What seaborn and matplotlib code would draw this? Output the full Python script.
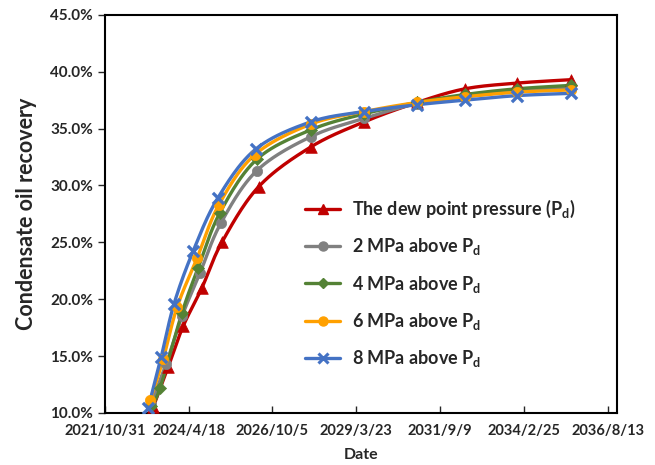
import numpy as np
import pandas as pd
import matplotlib
matplotlib.use('Agg')
import matplotlib.pyplot as plt
import matplotlib.dates as mdates
from matplotlib.lines import Line2D
import seaborn as sns

# dates (the last six are shared by all cases)
late_dates = ['2027/11/24', '2029/6/18', '2031/1/6', '2032/6/3', '2033/12/11', '2035/7/12']

dew_dates = ['2023/4/3', '2023/9/10', '2024/2/18', '2024/9/8', '2025/4/10', '2026/5/11'] + late_dates
dew_rec = [10.5, 14.0, 17.6, 21.0, 25.0, 29.9, 33.4, 35.6, 37.3, 38.5, 39.0, 39.3]

p2_dates = ['2023/3/13', '2023/8/20', '2024/2/7', '2024/8/18', '2025/3/31', '2026/4/20'] + late_dates
p2_rec = [10.8, 14.3, 18.5, 22.3, 26.7, 31.3, 34.3, 35.9, 37.2, 37.8, 38.3, 38.6]

p4_dates = ['2023/3/13', '2023/6/17', '2024/2/7', '2024/7/27', '2025/3/20', '2026/4/20'] + late_dates
p4_rec = [10.6, 12.2, 18.8, 22.7, 27.6, 32.3, 34.9, 36.3, 37.3, 38.0, 38.5, 38.8]

p6_dates = ['2023/3/2', '2023/7/19', '2023/12/16', '2024/7/17', '2025/3/9', '2026/3/29'] + late_dates
p6_rec = [11.1, 14.7, 19.3, 23.6, 28.3, 32.7, 35.4, 36.5, 37.3, 37.8, 38.2, 38.4]

p8_dates = ['2023/2/8', '2023/6/28', '2023/11/14', '2024/6/4', '2025/2/26', '2026/4/9'] + late_dates
p8_rec = [10.4, 14.9, 19.6, 24.2, 28.9, 33.2, 35.6, 36.5, 37.1, 37.5, 37.9, 38.1]

labels = ['The dew point pressure (P$\\mathregular{_d}$)',
          '2 MPa above P$\\mathregular{_d}$',
          '4 MPa above P$\\mathregular{_d}$',
          '6 MPa above P$\\mathregular{_d}$',
          '8 MPa above P$\\mathregular{_d}$']
colors = ['#C00000', '#808080', '#548235', '#FFA000', '#4472C4']
markers = ['^', 'o', 'D', 'o', 'x']
msizes = [70, 55, 38, 55, 65]

sns.set_style('white')
plt.rcParams['font.family'] = ['Lato', 'DejaVu Sans']
plt.rcParams['font.weight'] = 'bold'
plt.rcParams['mathtext.fontset'] = 'custom'
plt.rcParams['mathtext.rm'] = 'Lato:bold'


def smooth(x, y, n=25):
    # Catmull-Rom in roughly pixel-scaled space (like Excel smoothed lines)
    sx, sy = 512 / 5500.0, 398 / 35.0
    P = np.column_stack([x * sx, y * sy])
    P = np.vstack([P[0], P, P[-1]])
    t = np.linspace(0, 1, n)[:, None]
    segs = []
    for i in range(1, len(P) - 2):
        p0, p1, p2, p3 = P[i - 1], P[i], P[i + 1], P[i + 2]
        seg = 0.5 * (2 * p1 + (-p0 + p2) * t + (2 * p0 - 5 * p1 + 4 * p2 - p3) * t ** 2
                     + (-p0 + 3 * p1 - 3 * p2 + p3) * t ** 3)
        segs.append(seg if i == 1 else seg[1:])
    S = np.vstack(segs)
    return S[:, 0] / sx, S[:, 1] / sy


fig, ax = plt.subplots(figsize=(6.55, 4.65), dpi=100)
fig.subplots_adjust(left=0.160, right=0.942, top=0.968, bottom=0.112)

series = [(dew_dates, dew_rec), (p2_dates, p2_rec), (p4_dates, p4_rec),
          (p6_dates, p6_rec), (p8_dates, p8_rec)]

for (d, r), c, m, s in zip(series, colors, markers, msizes):
    x = mdates.date2num(pd.to_datetime(d, format='%Y/%m/%d'))
    y = np.array(r)
    xs, ys = smooth(x, y)
    sns.lineplot(x=xs, y=ys, sort=False, estimator=None, color=c, lw=2.4, ax=ax)
    if m == 'x':
        sns.scatterplot(x=x, y=y, marker=m, s=s, color=c, linewidth=2.4, ax=ax, zorder=3)
    else:
        sns.scatterplot(x=x, y=y, marker=m, s=s, color=c, edgecolor=c, linewidth=0.5, ax=ax, zorder=3)

tick_dates = pd.date_range('2021-10-31', periods=7, freq='900D')
ax.set_xticks(mdates.date2num(tick_dates))
ax.set_xticklabels([f'{t.year}/{t.month}/{t.day}' for t in tick_dates])
start = pd.Timestamp('2021-10-31')
ax.set_xlim(mdates.date2num(start), mdates.date2num(start + pd.Timedelta(days=5500)))

ax.set_ylim(10, 45)
ax.set_yticks(np.arange(10, 45.1, 5))
ax.set_yticklabels([f'{v:.1f}%' for v in np.arange(10, 45.1, 5)])

ax.tick_params(axis='x', direction='in', length=5, width=1, labelsize=10.5, pad=8, bottom=True)
ax.tick_params(axis='y', direction='out', length=5, width=1, labelsize=11, left=True)
for sp in ax.spines.values():
    sp.set_color('black')
    sp.set_linewidth(1.5)

ax.set_xlabel('Date', fontsize=11.5, fontweight='bold', labelpad=7)
ax.set_ylabel('Condensate oil recovery', fontsize=15.5, fontweight='bold', labelpad=9)

handles = []
for c, m in zip(colors, markers):
    handles.append(Line2D([0], [0], color=c, lw=2.4, marker=m,
                          markersize=6.5 if m != 'D' else 5, mew=2.2 if m == 'x' else 1,
                          markerfacecolor=c, markeredgecolor=c))
ax.legend(handles, labels, loc='center left', bbox_to_anchor=(0.36, 0.325),
          frameon=False, prop={'size': 13, 'weight': 'bold'},
          handlelength=1.9, handletextpad=0.7, labelspacing=0.9)

fig.savefig('out.png', dpi=100)
